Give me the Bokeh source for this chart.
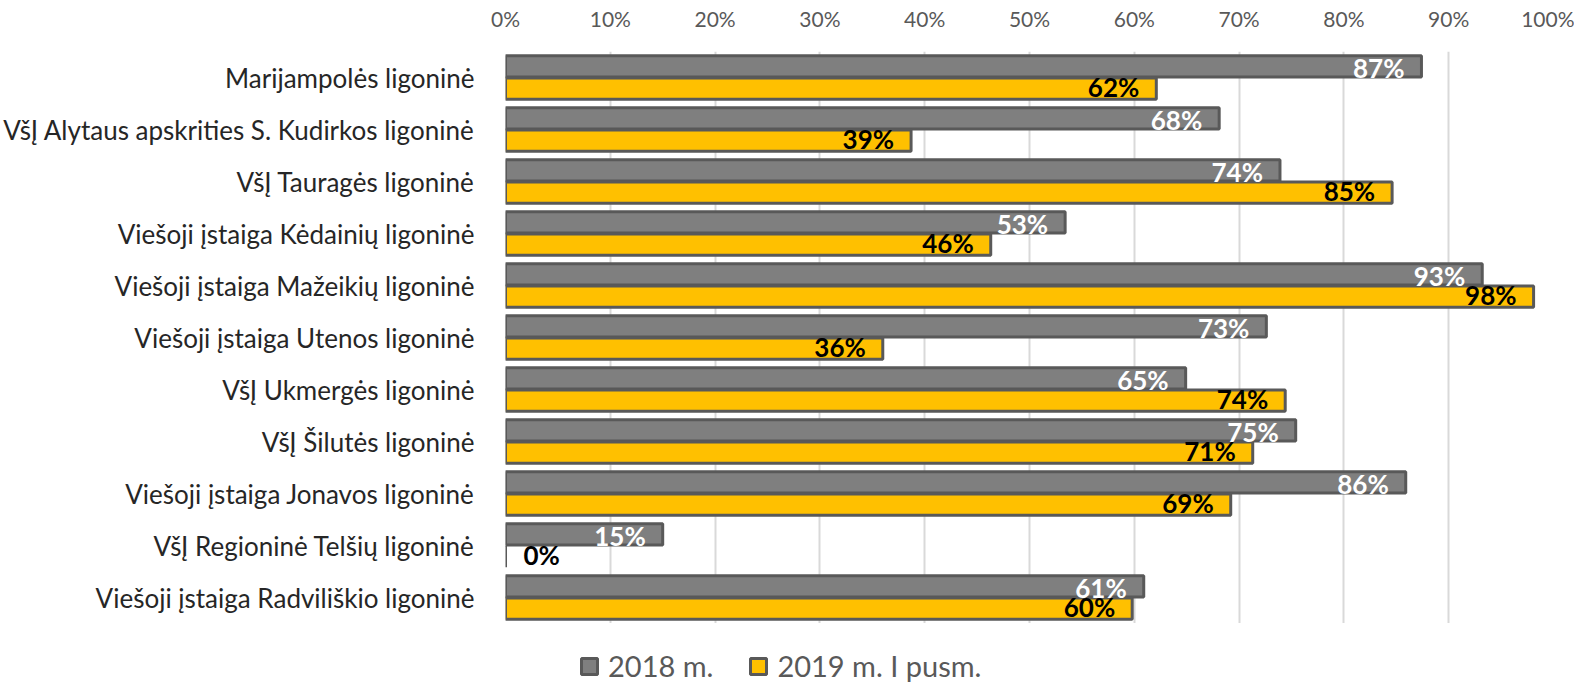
from bokeh.plotting import figure
from bokeh.layouts import column
from bokeh.models import ColumnDataSource, FactorRange, Range1d, Legend, LegendItem, SingleIntervalTicker, CustomJSTickFormatter
from bokeh.transform import dodge
from bokeh.core.properties import value
from bokeh.embed import file_html
from bokeh.resources import INLINE

categories = [
    "Marijampolės ligoninė",
    "VšĮ Alytaus apskrities S. Kudirkos ligoninė",
    "VšĮ Tauragės ligoninė",
    "Viešoji įstaiga Kėdainių ligoninė",
    "Viešoji įstaiga Mažeikių ligoninė",
    "Viešoji įstaiga Utenos ligoninė",
    "VšĮ Ukmergės ligoninė",
    "VšĮ Šilutės ligoninė",
    "Viešoji įstaiga Jonavos ligoninė",
    "VšĮ Regioninė Telšių ligoninė",
    "Viešoji įstaiga Radviliškio ligoninė",
]
values_2018 = [87.4, 68.1, 73.9, 53.4, 93.2, 72.6, 64.9, 75.4, 85.9, 15.0, 60.9]
values_2019 = [62.1, 38.7, 84.6, 46.3, 98.1, 36.0, 74.4, 71.3, 69.2, 0.0, 59.8]
series_names = ["2018 m.", "2019 m. I pusm."]

FONT = "Lato"
GRAY = "#7f7f7f"
YELLOW = "#ffc000"
EDGE = "#595959"

def label_cols(vals):
    texts = [f"{round(v):.0f}%" for v in vals]
    aligns = ["right" if v >= 5 else "left" for v in vals]
    offs = [-17 if v >= 5 else 18 for v in vals]
    return texts, aligns, offs

t18, a18, o18 = label_cols(values_2018)
t19, a19, o19 = label_cols(values_2019)

src = ColumnDataSource(dict(
    cat=categories, v18=values_2018, v19=values_2019,
    t18=t18, a18=a18, o18=o18, t19=t19, a19=a19, o19=o19,
))

p = figure(
    frame_width=1048, frame_height=572,
    y_range=FactorRange(factors=list(reversed(categories))),
    x_range=Range1d(0, 100),
    x_axis_location="above",
    output_backend="svg", toolbar_location=None,
    min_border_left=496, min_border_right=21, min_border_top=51, min_border_bottom=0,
)
p.outline_line_color = None

BH = 0.41
D = 0.215
r18 = p.hbar(y=dodge("cat", D, range=p.y_range), right="v18", left=0, height=BH, source=src,
             fill_color=GRAY, line_color=EDGE, line_width=3)
r19 = p.hbar(y=dodge("cat", -D, range=p.y_range), right="v19", left=0, height=BH, source=src,
             fill_color=YELLOW, line_color=EDGE, line_width=3)

p.text(x="v18", y=dodge("cat", D, range=p.y_range), text="t18", source=src,
       text_align="a18", x_offset="o18", y_offset=2, text_baseline="middle",
       text_font=value(FONT), text_font_style="bold", text_font_size="26px", text_color="white")
p.text(x="v19", y=dodge("cat", -D, range=p.y_range), text="t19", source=src,
       text_align="a19", x_offset="o19", y_offset=-2, text_baseline="middle",
       text_font=value(FONT), text_font_style="bold", text_font_size="26px", text_color="black")

xa = p.xaxis[0]
xa.ticker = SingleIntervalTicker(interval=10)
xa.formatter = CustomJSTickFormatter(code="return tick.toFixed(0) + '%';")
xa.axis_line_color = None
xa.major_tick_line_color = None
xa.minor_tick_line_color = None
xa.major_label_text_font = FONT
xa.major_label_text_font_size = "21px"
xa.major_label_text_color = "#595959"
xa.major_label_standoff = 15

ya = p.yaxis[0]
ya.axis_line_color = None
ya.major_tick_line_color = None
ya.minor_tick_line_color = None
ya.major_label_text_font = FONT
ya.major_label_text_font_size = "26px"
ya.major_label_text_color = "#262626"
ya.major_label_standoff = 25

p.xgrid.grid_line_color = "#d9d9d9"
p.xgrid.grid_line_width = 2
p.ygrid.grid_line_color = None

# legend in its own strip below the chart
lf = figure(width=1565, height=60, x_range=Range1d(0, 1), y_range=Range1d(0, 1),
            output_backend="svg", toolbar_location=None,
            min_border_left=0, min_border_right=0, min_border_top=0, min_border_bottom=0)
lf.axis.visible = False
lf.grid.visible = False
lf.outline_line_color = None
hidden = ColumnDataSource(dict(y=[float("nan")], r=[float("nan")]))
l18 = lf.hbar(y="y", right="r", left=0, height=0.5, source=hidden,
              fill_color=GRAY, line_color=EDGE, line_width=3)
l19 = lf.hbar(y="y", right="r", left=0, height=0.5, source=hidden,
              fill_color=YELLOW, line_color=EDGE, line_width=3)
legend = Legend(items=[LegendItem(label=series_names[0], renderers=[l18], index=0),
                       LegendItem(label=series_names[1], renderers=[l19], index=0)],
                orientation="horizontal", location=(74, 0))
legend.label_text_font = FONT
legend.label_text_font_size = "29px"
legend.label_text_color = "#595959"
legend.glyph_width = 20
legend.glyph_height = 20
legend.label_height = 30
legend.label_standoff = 9
legend.spacing = 35
legend.padding = 0
legend.margin = 0
legend.border_line_color = None
legend.background_fill_alpha = 0
lf.add_layout(legend)

page = column(p, lf, spacing=0)
open("out.html", "w").write(file_html(page, INLINE))
